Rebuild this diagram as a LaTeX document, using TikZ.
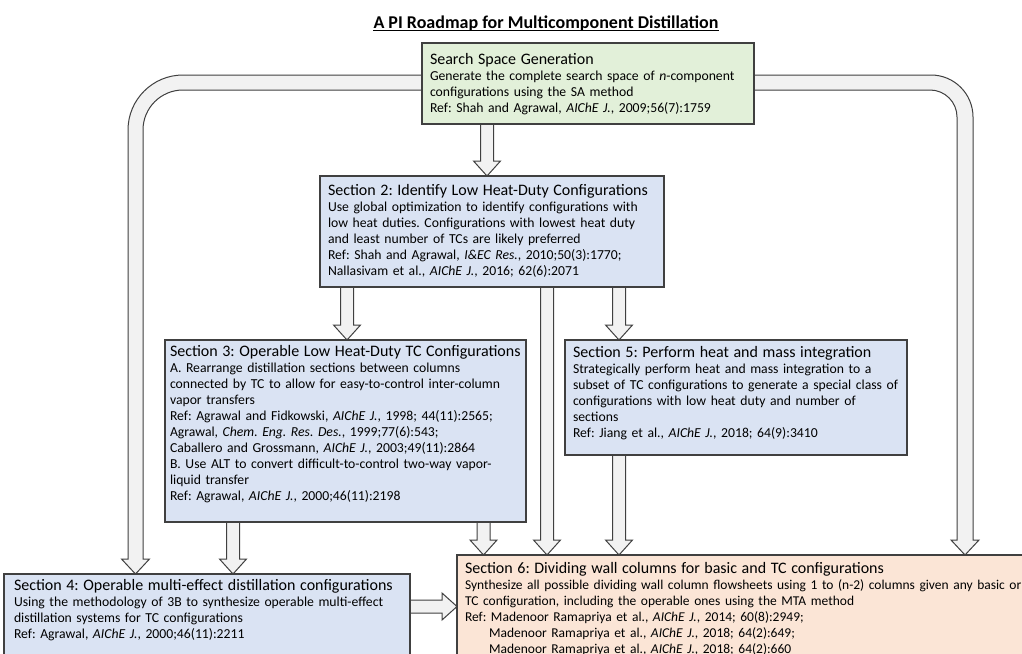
\documentclass[tikz,border=0pt]{standalone}
\usepackage{fontspec}
\setmainfont{Carlito}
\usetikzlibrary{backgrounds,calc}
\definecolor{gfill}{HTML}{E2F0D9}
\definecolor{bfill}{HTML}{DAE3F3}
\definecolor{pfill}{HTML}{FBE5D6}
\definecolor{afill}{HTML}{F2F2F2}
\definecolor{edgec}{HTML}{404040}
\frenchspacing
\hyphenpenalty=10000
\exhyphenpenalty=10000
\newcommand{\jl}[1]{\makebox[\linewidth][s]{#1}}
\newcommand{\ttl}[1]{{\fontsize{16}{19}\selectfont\rule{0pt}{12pt}\mbox{#1}\par}}
\newcommand{\bdy}{\fontsize{13.7}{16}\selectfont}
\newcommand{\darrow}[3]{%
  \path[barrow] let \p1=(#2.south), \p2=(#3.north) in
    (#1-6.5,\y1) -- (#1-6.5,\y2+15pt) -- (#1-13.5,\y2+15pt) -- (#1,\y2)
    -- (#1+13.5,\y2+15pt) -- (#1+6.5,\y2+15pt) -- (#1+6.5,\y1);}
\tikzset{
  box/.style={draw=edgec, line width=1.2pt, inner sep=0pt, outer sep=0pt, anchor=north west},
  txt/.style={inner sep=0pt, outer sep=0pt, anchor=north west, align=left, font=\fontsize{13.7}{16}\selectfont},
  barrow/.style={draw=edgec, fill=afill, line width=1pt, line join=miter},
}
\begin{document}
\begin{tikzpicture}[x=1pt,y=-1pt]
\useasboundingbox (0,0) rectangle (1022,653);
\clip (0,0) rectangle (1022,653);

% title
\node[inner sep=0pt, anchor=base, font=\fontsize{18}{21}\selectfont\bfseries] (title) at (546,28) {A PI Roadmap for Multicomponent Distillation};
\draw[line width=1.3pt] ([yshift=-2.8pt]title.base west) -- ([yshift=-2.8pt]title.base east);

% boxes
\node[box, fill=gfill, minimum width=332pt, minimum height=81pt] (g) at (422,43) {};
\node[box, fill=bfill, minimum width=344pt, minimum height=111pt] (s2) at (320,176) {};
\node[box, fill=bfill, minimum width=361pt, minimum height=182pt] (s3) at (165,340) {};
\node[box, fill=bfill, minimum width=342pt, minimum height=115pt] (s5) at (565,340) {};
\node[box, fill=bfill, minimum width=406pt, minimum height=100pt] (s4) at (4,574) {};
\node[box, fill=pfill, minimum width=600pt, minimum height=120pt] (s6) at (457,555) {};

% texts
\node[txt, text width=316pt] (gt) at ([xshift=8pt,yshift=-9pt]g.north west) {\ttl{Search Space Generation}\bdy
\jl{Generate the complete search space of \textit{n}-component}\\
configurations using the SA method\\
Ref: Shah and Agrawal, \textit{AIChE J.}, 2009;56(7):1759};

\node[txt, text width=328pt] (s2t) at ([xshift=8pt,yshift=-7pt]s2.north west) {\ttl{Section 2: Identify Low Heat-Duty Configurations}\bdy
\jl{Use global optimization to identify configurations with}\\
\jl{low heat duties. Configurations with lowest heat duty}\\
and least number of TCs are likely preferred\\
Ref: Shah and Agrawal, \textit{I\&EC Res.}, 2010;50(3):1770;\\
Nallasivam et al., \textit{AIChE J.}, 2016; 62(6):2071};

\node[txt, text width=352pt] (s3t) at ([xshift=5pt,yshift=-4pt]s3.north west) {\ttl{Section 3: Operable Low Heat-Duty TC Configurations}\bdy
\jl{A. Rearrange distillation sections between columns}\\
\jl{connected by TC to allow for easy-to-control inter-column}\\
vapor transfers\\
Ref: Agrawal and Fidkowski, \textit{AIChE J.}, 1998; 44(11):2565;\\
Agrawal, \textit{Chem. Eng. Res. Des.}, 1999;77(6):543;\\
Caballero and Grossmann, \textit{AIChE J.}, 2003;49(11):2864\\
\jl{B. Use ALT to convert difficult-to-control two-way vapor-}\\
liquid transfer\\
Ref: Agrawal, \textit{AIChE J.}, 2000;46(11):2198};

\node[txt, text width=328pt] (s5t) at ([xshift=8pt,yshift=-5pt]s5.north west) {\ttl{Section 5: Perform heat and mass integration}\bdy
\jl{Strategically perform heat and mass integration to a}\\
\jl{subset of TC configurations to generate a special class of}\\
\jl{configurations with low heat duty and number of}\\
sections\\
Ref: Jiang et al., \textit{AIChE J.}, 2018; 64(9):3410};

\node[txt, text width=384pt] (s4t) at ([xshift=10pt,yshift=-4pt]s4.north west) {\ttl{Section 4: Operable multi-effect distillation configurations}\bdy
\jl{Using the methodology of 3B to synthesize operable multi-effect}\\
distillation systems for TC configurations\\
Ref: Agrawal, \textit{AIChE J.}, 2000;46(11):2211};

\node[txt, text width=700pt] (s6t) at ([xshift=8pt,yshift=-6pt]s6.north west) {\ttl{Section 6: Dividing wall columns for basic and TC configurations}\fontsize{13.5}{16}\selectfont
Synthesize all possible dividing wall column flowsheets using 1 to (n-2) columns given any basic or\\
TC configuration, including the operable ones using the MTA method\\
Ref: Madenoor Ramapriya et al., \textit{AIChE J.}, 2014; 60(8):2949;\\
\hspace*{24pt}Madenoor Ramapriya et al., \textit{AIChE J.}, 2018; 64(2):649;\\
\hspace*{24pt}Madenoor Ramapriya et al., \textit{AIChE J.}, 2018; 64(2):660};

% arrows
\begin{scope}[on background layer]
\fill[white] (0,0) rectangle (1022,653);
\darrow{487}{g}{s2}
\darrow{347}{s2}{s3}
\darrow{547}{s2}{s6}
\darrow{619}{s2}{s5}
\darrow{233}{s3}{s4}
\darrow{483.5}{s3}{s6}
\darrow{619}{s5}{s6}
\path[barrow] let \p1=(s4.east), \p2=(s6.west) in
  (\x1,600) -- (\x2-15pt,600) -- (\x2-15pt,593) -- (\x2,606.5) -- (\x2-15pt,620) -- (\x2-15pt,613) -- (\x1,613);
\path[barrow] let \p1=(g.west), \p2=(s4.north) in
  (\x1,75) [rounded corners=55pt] -- (128,75) -- (128,300) [sharp corners] -- (128,\y2+15pt)
  -- (121.5,\y2+15pt) -- (135.5,\y2) -- (149.5,\y2+15pt) -- (143,\y2+15pt)
  -- (143,200) [rounded corners=40pt] -- (143,90) -- (\x1,90);
\path[barrow] let \p1=(g.east), \p2=(s6.north) in
  (\x1,75) [rounded corners=42pt] -- (973,75) -- (973,300) [sharp corners] -- (973,\y2+15pt)
  -- (979,\y2+15pt) -- (965,\y2) -- (951,\y2+15pt) -- (957,\y2+15pt)
  -- (957,200) [rounded corners=27pt] -- (957,90) -- (\x1,90);
\end{scope}
\end{tikzpicture}
\end{document}
